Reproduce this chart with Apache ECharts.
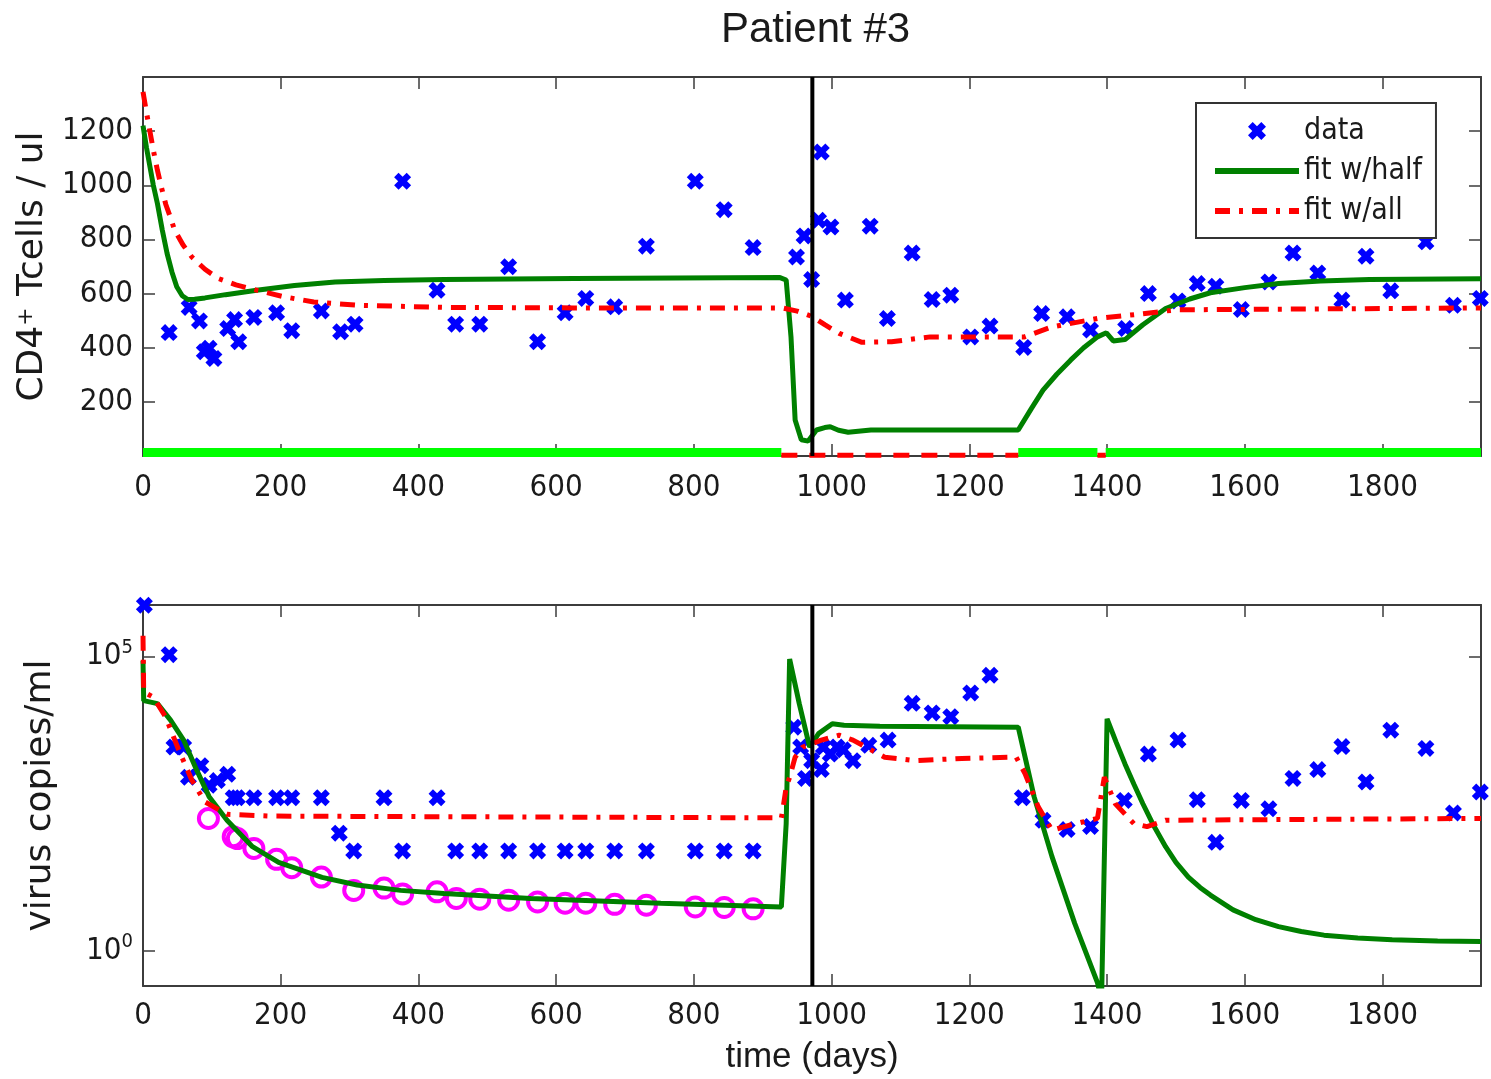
<!DOCTYPE html>
<html>
<head>
<meta charset="utf-8">
<title>Patient #3</title>
<script src="https://cdn.jsdelivr.net/npm/echarts@6.0.0/dist/echarts.min.js"></script>
<style>
    html, body { margin: 0; padding: 0; background: #fff; }
    #chart { width: 1491px; height: 1079px; }
</style>
</head>
<body>
<div id="chart"></div>
<script>
// day of the therapy switch (black vertical line)
var switchDay = 972;
var xMax = 1943;

// CD4+ T cells / ul, measured
var cd4Days = [38, 67, 82, 89, 96, 103, 123, 133, 139, 161, 194, 216, 259, 287, 308, 377, 427, 454, 489, 531,
    573, 613, 643, 685, 731, 802, 844, 886, 949, 960, 971, 981, 985, 999, 1020, 1056, 1081, 1117, 1146, 1173,
    1202, 1230, 1279, 1305, 1342, 1376, 1427, 1460, 1503, 1531, 1558, 1595, 1635, 1670, 1706, 1741, 1776, 1812,
    1863, 1903, 1942];
var cd4Values = [456, 549, 499, 385, 398, 360, 471, 504, 422, 512, 529, 463, 536, 459, 487, 1015, 612, 487, 487, 699,
    422, 529, 582, 551, 775, 1015, 910, 770, 735, 813, 652, 871, 1123, 846, 576, 849, 508, 750, 578, 594,
    440, 480, 401, 526, 514, 465, 471, 600, 573, 637, 627, 541, 643, 750, 676, 576, 738, 610,
    791, 557, 582];

// CD4 model, fit w/half
var cd4HalfDays = [0, 5, 10, 15, 21, 28, 35, 42, 49, 57, 65, 75, 90, 120, 165, 220, 279, 350, 437, 626,
    925, 934, 941, 947, 956, 966, 978, 990, 998, 1010, 1024, 1057, 1271, 1290, 1307, 1327, 1347, 1366, 1386, 1399,
    1409, 1426, 1452, 1485, 1520, 1550, 1600, 1649, 1710, 1781, 1943];
var cd4HalfValues = [1220, 1140, 1070, 1000, 932, 835, 748, 680, 625, 592, 578, 579, 584, 596, 612, 630, 643, 648, 652, 656,
    659, 650, 440, 133, 60, 55, 96, 105, 108, 95, 88, 96, 96, 175, 243, 302, 354, 400, 440, 455,
    425, 430, 485, 545, 580, 603, 622, 637, 646, 652, 655];

// CD4 model, fit w/all
var cd4AllDays = [0, 5, 10, 15, 21, 27, 33, 40, 46, 58, 71, 90, 109, 135, 166, 205, 248, 311, 437, 626,
    928, 950, 972, 990, 1011, 1044, 1087, 1143, 1280, 1320, 1386, 1450, 1500, 1943];
var cd4AllValues = [1345, 1270, 1200, 1130, 1055, 990, 930, 880, 834, 780, 735, 690, 656, 632, 612, 588, 569, 557, 549, 547,
    547, 535, 515, 485, 453, 420, 422, 440, 440, 477, 508, 525, 540, 547];

// therapy bar along the bottom of the CD4 panel
var onStart = [0, 1271, 1398];
var onEnd = [927, 1386, 1943];
var offStart = [927, 1386];
var offEnd = [1271, 1398];

// virus copies/ml, measured
var virusDays = [2, 38, 45, 59, 66, 84, 96, 108, 123, 131, 137, 161, 194, 216, 259, 285, 306, 350, 377, 427,
    454, 489, 531, 573, 613, 643, 685, 731, 802, 844, 886, 945, 955, 962, 971, 985, 988, 998, 1008, 1017,
    1031, 1054, 1082, 1117, 1146, 1173, 1202, 1230, 1277, 1307, 1342, 1376, 1425, 1460, 1503, 1531, 1558, 1595,
    1635, 1670, 1706, 1741, 1776, 1812, 1863, 1903, 1942];
var virusValues = [740000, 107000, 2900, 2900, 890, 1400, 650, 780, 1000, 400, 400, 400, 400, 400, 400, 100, 50, 400, 50, 400,
    50, 50, 50, 50, 50, 50, 50, 50, 50, 50, 50, 6300, 2900, 850, 1700, 1200, 2900, 2200, 2900, 2600,
    1700, 3100, 3800, 16000, 11000, 9500, 24000, 48000, 400, 165, 115, 130, 360, 2200, 3800, 370, 70, 360,
    260, 850, 1200, 2950, 740, 5600, 2750, 220, 500];

// model values at the censored (below detection) samples
var censoredDays = [95, 131, 137, 161, 194, 216, 259, 306, 350, 377, 427, 455, 489, 531, 573, 613, 643, 685, 731, 802, 844, 886];
var censoredValues = [178, 87, 81, 55, 36, 26, 18, 10.7, 11.7, 9.3, 10.1, 7.8, 7.6, 7.3, 6.8, 6.5, 6.5, 6.2, 6.0, 5.6, 5.5, 5.2];

// virus model, fit w/half
var virusHalfDays = [0, 1, 21, 40, 59, 78, 96, 122, 159, 197, 260, 311, 374, 437, 563, 752, 927, 934, 939, 953,
    968, 981, 1001, 1018, 1070, 1271, 1294, 1320, 1353, 1386, 1392, 1400, 1413, 1426, 1439, 1452, 1468, 1485, 1500, 1518,
    1535, 1550, 1583, 1616, 1649, 1682, 1715, 1764, 1814, 1880, 1943];
var virusHalfValues = [85000, 17800, 15800, 8300, 3800, 1175, 417, 166, 59, 32, 17.8, 13.2, 10.7, 9.5, 7.8, 6.5, 5.6, 145, 90000, 15800,
    2900, 4900, 7200, 6800, 6500, 6300, 417, 40, 2.95, 0.29, 0.15, 8700, 3550, 1500, 676, 316, 132, 59, 32, 18,
    12, 8.9, 5.0, 3.4, 2.6, 2.14, 1.86, 1.66, 1.55, 1.48, 1.45];

// virus model, fit w/all
var virusAllDays = [0, 1, 15, 33, 52, 71, 90, 122, 185, 927, 929, 934, 939, 947, 958, 972, 985, 1011, 1031, 1077,
    1123, 1189, 1268, 1281, 1300, 1320, 1347, 1386, 1396, 1412, 1439, 1458, 1485, 1943];
var virusAllValues = [224000, 25000, 20400, 9300, 2570, 794, 339, 209, 195, 182, 245, 600, 890, 1950, 2900, 3300, 3800, 4600, 3800, 1950,
    1700, 1860, 1950, 1020, 280, 112, 138, 178, 890, 316, 145, 129, 166, 178];

var cd4Max = 1400;
var virusMin = 0.255;
var virusMax = 746000;

var NARROW = "'Liberation Sans Narrow', 'DejaVu Sans Condensed', 'Liberation Sans', sans-serif";
var REGULAR = "'Liberation Sans', Arial, sans-serif";
var WIDE = "'DejaVu Sans', 'Liberation Sans', sans-serif";
var AXIS = '#3c3c3c';
var XMARK = 'path://M0,2.6L2.6,0L5,2.4L7.4,0L10,2.6L7.6,5L10,7.4L7.4,10L5,7.6L2.6,10L0,7.4L2.4,5Z';
var DASHDOT = [15, 9, 4, 9];

function pairs(xs, ys) {
    var out = [];
    for (var i = 0; i < xs.length; i++) {
        out.push([xs[i], ys[i]]);
    }
    return out;
}

function bars(starts, ends, level) {
    var out = [];
    for (var i = 0; i < starts.length; i++) {
        out.push([starts[i], level], [ends[i], level], [ends[i], '-']);
    }
    return out;
}

function xAxis(grid, pos, labels) {
    return {
        type: 'value', gridIndex: grid, position: pos,
        min: 0, max: xMax, interval: 200,
        axisLine: { show: true, onZero: false, lineStyle: { color: AXIS, width: 2 } },
        axisTick: { show: true, inside: true, length: 12, lineStyle: { color: AXIS, width: 1.5 } },
        axisLabel: {
            show: labels, showMaxLabel: false, margin: 16, fontSize: 31, fontFamily: NARROW, color: '#1a1a1a',
            formatter: function (v) { return String(v); }
        },
        splitLine: { show: false }
    };
}

function yAxisBase(grid, pos) {
    return {
        gridIndex: grid, position: pos,
        axisLine: { show: true, onZero: false, lineStyle: { color: AXIS, width: 2 } },
        axisTick: { show: true, inside: true, length: 12, lineStyle: { color: AXIS, width: 1.5 } },
        splitLine: { show: false }
    };
}

var cd4Left = yAxisBase(0, 'left');
cd4Left.type = 'value';
cd4Left.min = 0;
cd4Left.max = cd4Max;
cd4Left.interval = 200;
cd4Left.axisLabel = {
    margin: 10, fontSize: 31, fontFamily: NARROW, color: '#1a1a1a',
    formatter: function (v) { return (v <= 0 || v >= cd4Max) ? '' : String(v); }
};
cd4Left.name = 'CD4{sup|+} Tcells / ul';
cd4Left.nameLocation = 'middle';
cd4Left.nameGap = 86;
cd4Left.nameRotate = 90;
cd4Left.nameTextStyle = {
    fontSize: 36, fontFamily: WIDE, color: '#1a1a1a',
    rich: { sup: { fontSize: 22, fontFamily: WIDE, verticalAlign: 'top', lineHeight: 22, color: '#1a1a1a' } }
};

var cd4Right = yAxisBase(0, 'right');
cd4Right.type = 'value';
cd4Right.min = 0;
cd4Right.max = cd4Max;
cd4Right.interval = 200;
cd4Right.axisLabel = { show: false };

var virusLeft = yAxisBase(1, 'left');
virusLeft.type = 'log';
virusLeft.logBase = 100000;
virusLeft.min = virusMin;
virusLeft.max = virusMax;
virusLeft.axisLabel = {
    margin: 10, fontSize: 31, fontFamily: NARROW, color: '#1a1a1a',
    formatter: function (v) {
        var e = Math.log(v) / Math.LN10;
        if (Math.abs(e) < 1e-6) return '{b|10}{s|0}';
        if (Math.abs(e - 5) < 1e-6) return '{b|10}{s|5}';
        return '';
    },
    rich: {
        b: { fontSize: 31, fontFamily: NARROW, lineHeight: 38, color: '#1a1a1a' },
        s: { fontSize: 20, fontFamily: NARROW, verticalAlign: 'top', lineHeight: 20, color: '#1a1a1a' }
    }
};
virusLeft.name = 'virus copies/ml';
virusLeft.nameLocation = 'middle';
virusLeft.nameGap = 84;
virusLeft.nameRotate = 90;
virusLeft.nameTextStyle = { fontSize: 36, fontFamily: WIDE, color: '#1a1a1a' };

var virusRight = yAxisBase(1, 'right');
virusRight.type = 'log';
virusRight.logBase = 100000;
virusRight.min = virusMin;
virusRight.max = virusMax;
virusRight.axisLabel = { show: false };

var bottomX = xAxis(1, 'bottom', true);
bottomX.axisLabel.margin = 14;
bottomX.name = 'time (days)';
bottomX.nameLocation = 'middle';
bottomX.nameGap = 54;
bottomX.nameTextStyle = { fontSize: 35, fontFamily: REGULAR, color: '#1a1a1a' };

function fitLine(name, xi, yi, data, color, type, width) {
    return {
        name: name, type: 'line', xAxisIndex: xi, yAxisIndex: yi,
        data: data, symbol: 'none', smooth: false, animation: false,
        lineStyle: { color: color, width: width || 5, type: type },
        itemStyle: { color: color }
    };
}

function marks(name, xi, yi, data) {
    return {
        name: name, type: 'scatter', xAxisIndex: xi, yAxisIndex: yi,
        data: data, symbol: XMARK, symbolSize: 17, symbolKeepAspect: true,
        itemStyle: { color: '#0000ff', opacity: 1 }
    };
}

var chart = echarts.init(document.getElementById('chart'));

var option = {
    animation: false,
    backgroundColor: '#ffffff',
    title: {
        text: 'Patient #3', left: 716, top: 4,
        textStyle: { fontSize: 42, fontWeight: 'normal', fontFamily: REGULAR, color: '#1a1a1a' }
    },
    grid: [
        { left: 143, top: 77, width: 1338, height: 379 },
        { left: 143, top: 605, width: 1338, height: 381 }
    ],
    legend: {
        // the line entries keep only their line, no symbol in the middle
        data: [
            { name: 'data' },
            { name: 'fit w/half', itemStyle: { opacity: 0 } },
            { name: 'fit w/all', itemStyle: { opacity: 0 } }
        ],
        orient: 'vertical', left: 1196, top: 103,
        itemWidth: 84, itemHeight: 18, itemGap: 10,
        padding: [13, 14, 12, 16],
        backgroundColor: '#ffffff', borderColor: '#333', borderWidth: 2,
        lineStyle: { width: 6 },
        textStyle: { fontSize: 30, fontFamily: NARROW, color: '#1a1a1a' },
        selectedMode: false
    },
    xAxis: [xAxis(0, 'bottom', true), xAxis(0, 'top', false), bottomX, xAxis(1, 'top', false)],
    yAxis: [cd4Left, cd4Right, virusLeft, virusRight],
    series: [
        // CD4 panel
        marks('data', 0, 0, pairs(cd4Days, cd4Values)),
        fitLine('fit w/half', 0, 0, pairs(cd4HalfDays, cd4HalfValues), '#008000', 'solid'),
        fitLine('fit w/all', 0, 0, pairs(cd4AllDays, cd4AllValues), '#ff0000', DASHDOT),
        fitLine('therapy on', 0, 0, bars(onStart, onEnd, 13), '#00ff00', 'solid', 9),
        fitLine('therapy off', 0, 0, bars(offStart, offEnd, 3), '#ff0000', [16, 12], 5),
        {
            name: 'switch', type: 'line', xAxisIndex: 0, yAxisIndex: 0, symbol: 'none', z: 5,
            data: [[switchDay, 0], [switchDay, cd4Max]],
            lineStyle: { color: '#000000', width: 4 }
        },
        // virus panel
        marks('data', 2, 2, pairs(virusDays, virusValues)),
        fitLine('fit w/half', 2, 2, pairs(virusHalfDays, virusHalfValues), '#008000', 'solid'),
        fitLine('fit w/all', 2, 2, pairs(virusAllDays, virusAllValues), '#ff0000', DASHDOT),
        {
            name: 'censored', type: 'scatter', xAxisIndex: 2, yAxisIndex: 2,
            data: pairs(censoredDays, censoredValues), symbol: 'circle', symbolSize: 19,
            itemStyle: { color: 'rgba(0,0,0,0)', borderColor: '#ff00ff', borderWidth: 4, opacity: 1 }
        },
        {
            name: 'switch2', type: 'line', xAxisIndex: 2, yAxisIndex: 2, symbol: 'none', z: 5,
            data: [[switchDay, virusMin], [switchDay, virusMax]],
            lineStyle: { color: '#000000', width: 4 }
        }
    ]
};

chart.setOption(option);
window.addEventListener('resize', function () {
    chart.resize();
});
</script>
</body>
</html>
